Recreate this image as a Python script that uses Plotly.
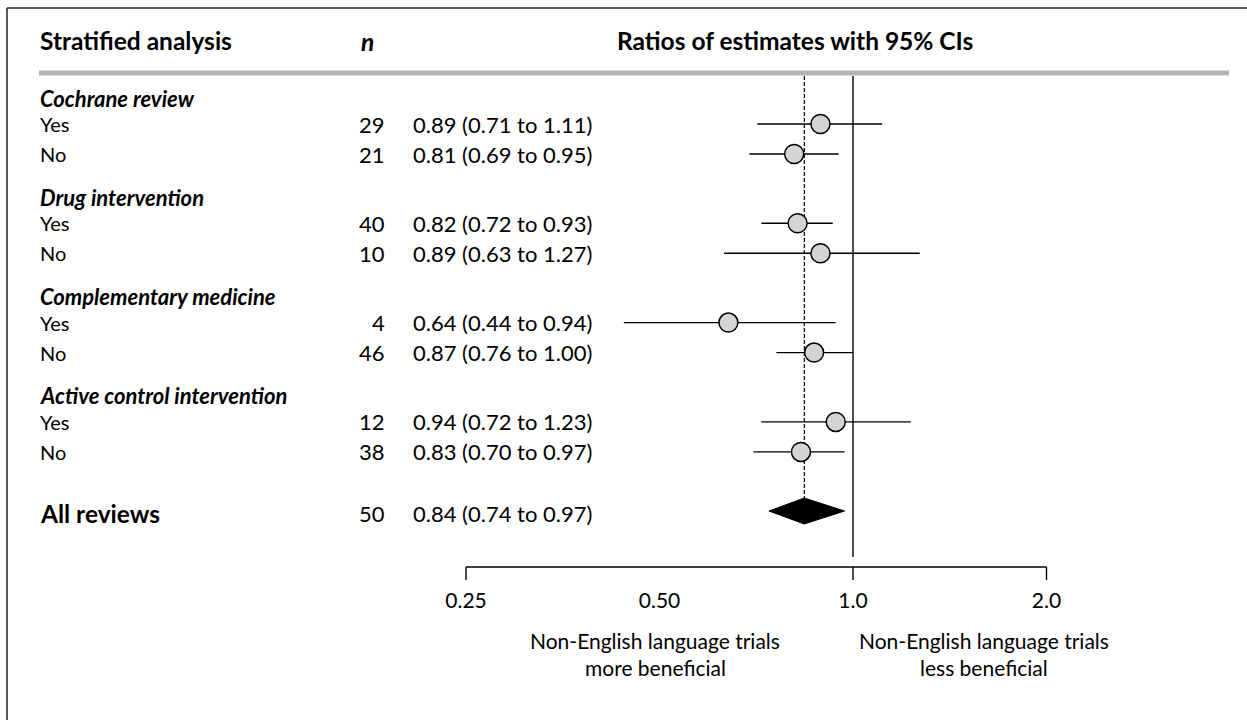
import math
import plotly.graph_objects as go

# ---- data -------------------------------------------------------------
groups = ["Cochrane review", "Drug intervention", "Complementary medicine",
          "Active control intervention"]
levels = ["Yes", "No"]
n_vals = [[29, 21], [40, 10], [4, 46], [12, 38]]
est = [[0.89, 0.81], [0.82, 0.89], [0.64, 0.87], [0.94, 0.83]]
lo = [[0.71, 0.69], [0.72, 0.63], [0.44, 0.76], [0.72, 0.70]]
hi = [[1.11, 0.95], [0.93, 1.27], [0.94, 1.00], [1.23, 0.97]]

overall_label = "All reviews"
overall_n = 50
overall_est, overall_lo, overall_hi = 0.84, 0.74, 0.97

tick_vals = [0.25, 0.50, 1.0, 2.0]
tick_text = ["0.25", "0.50", "1.0", "2.0"]
tick_marks = [0.25, 1.0, 2.0]

# ---- layout constants (pixels) -----------------------------------------
W, H = 1247, 720
PX_PER_DOUBLING = 193.5
X_025_PX = 466
px_per_dec = PX_PER_DOUBLING / math.log10(2)
x_lo = math.log10(0.25) - X_025_PX / px_per_dec
x_hi = x_lo + W / px_per_dec

FONT = "Lato, 'Open Sans', sans-serif"
FS_BOLD = 24.5
FS_GROUP = 22
FS_WORD = 20
FS_NUM = 22
BLACK = "#000000"


def row_y(g, k):
    return 124 + 99.3 * g + 30 * k


def group_y(g):
    return row_y(g, 0) - 26


overall_y = 511

fig = go.Figure()
ann = []


def txt(x, y, s, size=FS_WORD, bold=False, italic=False, anchor="left"):
    if bold:
        s = "<b>" + s + "</b>"
    if italic:
        s = "<i>" + s + "</i>"
    ann.append(dict(x=x / W, y=y, xref="paper", yref="y", text=s,
                    showarrow=False, xanchor=anchor, yanchor="middle",
                    borderpad=0,
                    font=dict(family=FONT, size=size, color=BLACK)))


def fmt(e, l, h):
    return f"{e:.2f} ({l:.2f} to {h:.2f})"


# header
txt(39, 40, "Stratified analysis", size=FS_BOLD, bold=True)
txt(367, 41, "n", size=FS_BOLD, bold=True, italic=True, anchor="center")
txt(795, 40, "Ratios of estimates with 95% CIs", size=FS_BOLD, bold=True,
    anchor="center")

# reference lines (null and pooled estimate)
fig.add_trace(go.Scatter(x=[1.0, 1.0], y=[76, 557], mode="lines",
                         line=dict(color=BLACK, width=1.4), hoverinfo="skip"))
fig.add_trace(go.Scatter(x=[overall_est, overall_est], y=[76, overall_y - 13],
                         mode="lines",
                         line=dict(color=BLACK, width=1.2, dash="4px,2px"),
                         hoverinfo="skip"))

# stratified rows
for g, name in enumerate(groups):
    txt(39, group_y(g), name, size=FS_GROUP, bold=True, italic=True)
    for k, lev in enumerate(levels):
        y = row_y(g, k)
        txt(39, y, lev)
        txt(386, y, str(n_vals[g][k]), size=FS_NUM, anchor="right")
        txt(412, y, fmt(est[g][k], lo[g][k], hi[g][k]), size=FS_NUM)
        fig.add_trace(go.Scatter(x=[lo[g][k], hi[g][k]], y=[y, y], mode="lines",
                                 line=dict(color=BLACK, width=1.4),
                                 hoverinfo="skip"))
        fig.add_trace(go.Scatter(x=[est[g][k]], y=[y], mode="markers",
                                 marker=dict(size=19, color="#d4d4d4",
                                             line=dict(color=BLACK, width=1.5)),
                                 hoverinfo="skip"))

# pooled estimate
txt(39, overall_y + 2, overall_label, size=FS_BOLD, bold=True)
txt(386, overall_y + 2, str(overall_n), size=FS_NUM, anchor="right")
txt(412, overall_y + 2, fmt(overall_est, overall_lo, overall_hi), size=FS_NUM)
fig.add_trace(go.Scatter(
    x=[overall_lo, overall_est, overall_hi, overall_est, overall_lo],
    y=[overall_y, overall_y - 13, overall_y, overall_y + 13, overall_y],
    mode="lines", fill="toself", fillcolor=BLACK,
    line=dict(color=BLACK, width=1), hoverinfo="skip"))

# horizontal scale
AX_Y = 567
fig.add_trace(go.Scatter(x=[tick_vals[0], tick_vals[-1]], y=[AX_Y, AX_Y],
                         mode="lines", line=dict(color=BLACK, width=1.4),
                         hoverinfo="skip"))
for t in tick_marks:
    fig.add_trace(go.Scatter(x=[t, t], y=[AX_Y, AX_Y + 13], mode="lines",
                             line=dict(color=BLACK, width=1.4),
                             hoverinfo="skip"))
fig.add_trace(go.Scatter(x=tick_vals, y=[603] * len(tick_vals), mode="text",
                         text=tick_text, textposition="middle center",
                         textfont=dict(family=FONT, size=21, color=BLACK),
                         hoverinfo="skip"))

# direction captions
txt(655, 640, "Non-English language trials", size=21, anchor="center")
txt(655, 667, "more beneficial", size=21, anchor="center")
txt(984, 640, "Non-English language trials", size=21, anchor="center")
txt(984, 667, "less beneficial", size=21, anchor="center")

# frame and header rule
shapes = [
    dict(type="line", xref="paper", yref="y", x0=7 / W, x1=1.0, y0=8, y1=8,
         line=dict(color="#222222", width=1.5)),
    dict(type="line", xref="paper", yref="y", x0=7 / W, x1=7 / W, y0=8, y1=H,
         line=dict(color="#222222", width=1.5)),
    dict(type="line", xref="paper", yref="y", x0=39 / W, x1=1229 / W, y0=73,
         y1=73, line=dict(color="#b3b3b3", width=5)),
]

fig.update_layout(
    width=W, height=H, margin=dict(l=0, r=0, t=0, b=0),
    paper_bgcolor="white", plot_bgcolor="white", showlegend=False,
    xaxis=dict(type="log", range=[x_lo, x_hi], visible=False, fixedrange=True),
    yaxis=dict(range=[H, 0], visible=False, fixedrange=True),
    annotations=ann, shapes=shapes,
)

fig.write_html("out.html")
